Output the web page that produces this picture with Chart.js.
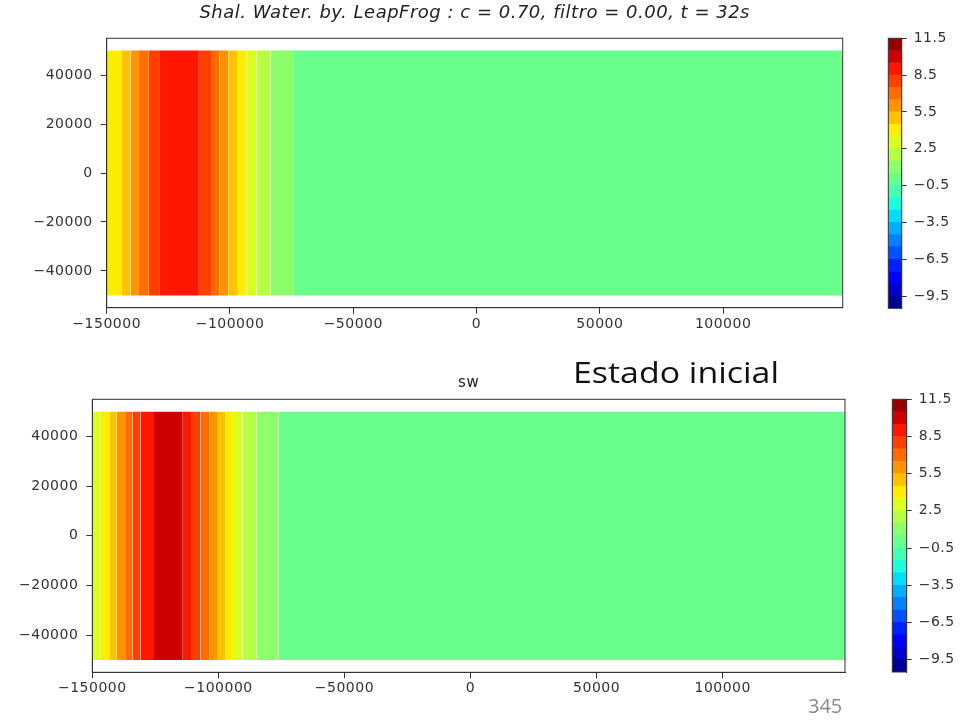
<!DOCTYPE html>
<html>
<head>
<meta charset="utf-8">
<script src="https://cdn.jsdelivr.net/npm/chart.js@4.4.1/dist/chart.umd.min.js"></script>
<style>
  html, body { margin: 0; padding: 0; background: #fff; }
  body { width: 972px; height: 723px; position: relative; overflow: hidden; }
  canvas { position: absolute; }
  #note { position: absolute; left: 573px; top: 351px; font: 30px 'Open Sans'; color: #111;
          white-space: nowrap; transform: scaleX(1.13); transform-origin: 0 0; }
  #page { position: absolute; left: 808px; top: 692px; font: 20px 'Open Sans'; color: #8a8a8a; }
</style>
</head>
<body>
<canvas id="top-plot" width="860" height="340" style="left:0;top:0"></canvas>
<canvas id="top-bar" width="100" height="290" style="left:870px;top:30px"></canvas>
<canvas id="bottom-plot" width="860" height="345" style="left:0;top:360px"></canvas>
<canvas id="bottom-bar" width="100" height="290" style="left:870px;top:390px"></canvas>
<div id="note">Estado inicial</div>
<div id="page">345</div>

<script>
// contour levels and colorbar ticks
const levels   = [-10.5, -9.5, -8.5, -7.5, -6.5, -5.5, -4.5, -3.5, -2.5, -1.5, -0.5, 0.5,
                  1.5, 2.5, 3.5, 4.5, 5.5, 6.5, 7.5, 8.5, 9.5, 10.5, 11.5];
const cbTicks  = [11.5, 8.5, 5.5, 2.5, -0.5, -3.5, -6.5, -9.5];

// axis ticks
const xTicks = [-150000, -100000, -50000, 0, 50000, 100000];
const yTicks = [-40000, -20000, 0, 20000, 40000];
const xRange = [-150000, 148500];
const yRange = [-55000, 55000];
const yExtent = [-50000, 50000];   // domain covered by the field

// t = 32s : band edges along x and the level (layer value) in each band
const topEdges = [-150000, -143900, -140300, -136900, -132900, -128400, -112600, -107700,
                  -104300, -100700, -96900, -93200, -89200, -83500, -74300, 148500];
const topBands = [4, 5, 6, 7, 8, 9, 8, 7, 6, 5, 4, 3, 2, 1, 0];

// estado inicial
const botEdges = [-150000, -146600, -143000, -140300, -137000, -134100, -130900, -125900,
                  -114100, -110500, -107100, -103600, -100500, -97200, -94200, -90400,
                  -84800, -76100, 148500];
const botBands = [3, 4, 5, 6, 7, 8, 9, 10, 9, 8, 7, 6, 5, 4, 3, 2, 1, 0];

// matplotlib 'jet' (256 entries)
const JET = {
  r: [[0, 0], [0.35, 0], [0.66, 1], [0.89, 1], [1, 0.5]],
  g: [[0, 0], [0.125, 0], [0.375, 1], [0.64, 1], [0.91, 0], [1, 0]],
  b: [[0, 0.5], [0.11, 1], [0.34, 1], [0.65, 0], [1, 0]],
};
function seg(pts, x) {
  for (let i = 1; i < pts.length; i++) {
    if (x <= pts[i][0]) {
      const [x0, y0] = pts[i - 1], [x1, y1] = pts[i];
      return y0 + (y1 - y0) * (x - x0) / (x1 - x0);
    }
  }
  return pts[pts.length - 1][1];
}
function jet(v) {
  const lo = levels[0], hi = levels[levels.length - 1];
  const t = (v - lo) / (hi - lo);
  const x = Math.min(255, Math.max(0, Math.floor(t * 256))) / 255;
  const c = k => Math.round(seg(JET[k], x) * 255);
  return `rgb(${c('r')},${c('g')},${c('b')})`;
}

const INK = '#333';
const tickFont = { family: 'DejaVu Sans', size: 14 };
const minus = s => s.replace('-', '\u2212');

// box around the axes + slightly wider lettering like the reference
const frame = {
  id: 'frame',
  beforeDraw(chart) { chart.ctx.letterSpacing = '0.5px'; },
  afterDraw(chart) {
    const { ctx, chartArea: a } = chart;
    ctx.save();
    ctx.strokeStyle = INK;
    ctx.lineWidth = 1;
    ctx.strokeRect(a.left, a.top, a.right - a.left, a.bottom - a.top);
    ctx.restore();
  }
};

// fixed axis width, no extra room for end labels
const fitY = w => s => { s.width = w; s.paddingTop = 0; s.paddingBottom = 0; };

function bandSets(edges, bands) {
  return bands.map((v, i) => ({
    data: [{ x: edges[i], y: yExtent[1] }, { x: edges[i + 1], y: yExtent[1] }],
    fill: { value: yExtent[0] },
    backgroundColor: jet(v),
    borderWidth: 0,
    pointRadius: 0,
  }));
}

function fieldChart(id, edges, bands, o) {
  return new Chart(document.getElementById(id), {
    type: 'line',
    data: { datasets: bandSets(edges, bands) },
    plugins: [frame],
    options: {
      responsive: false,
      animation: false,
      layout: { autoPadding: false, padding: { left: 0, right: o.padRight, top: 0, bottom: 0 } },
      plugins: {
        legend: { display: false },
        tooltip: { enabled: false },
        title: {
          display: true, fullSize: false, text: o.title, color: '#222',
          font: o.titleFont, padding: o.titlePad,
        },
      },
      scales: {
        x: {
          type: 'linear', min: xRange[0], max: xRange[1],
          afterBuildTicks: s => { s.ticks = xTicks.map(v => ({ value: v })); },
          afterFit: s => { s.height = o.xHeight; },
          grid: { drawOnChartArea: false, tickLength: 6, color: INK },
          border: { color: INK },
          ticks: { color: INK, font: tickFont, padding: 2, maxRotation: 0, autoSkip: false,
                   callback: v => minus(String(v)) },
        },
        y: {
          type: 'linear', min: yRange[0], max: yRange[1],
          afterBuildTicks: s => { s.ticks = yTicks.map(v => ({ value: v })); },
          afterFit: fitY(o.yWidth),
          grid: { drawOnChartArea: false, tickLength: 6, color: INK },
          border: { color: INK },
          ticks: { color: INK, font: tickFont, padding: 8, callback: v => minus(String(v)) },
        },
      },
    },
  });
}

function colorbar(id, o) {
  const sets = levels.slice(0, -1).map((lo, i) => ({
    data: [[lo, levels[i + 1]]],
    backgroundColor: jet((lo + levels[i + 1]) / 2),
    borderWidth: 0,
    grouped: false,
    barPercentage: 1,
    categoryPercentage: 1,
  }));
  return new Chart(document.getElementById(id), {
    type: 'bar',
    data: { labels: [''], datasets: sets },
    plugins: [frame],
    options: {
      responsive: false,
      animation: false,
      layout: { autoPadding: false, padding: o.pad },
      plugins: { legend: { display: false }, tooltip: { enabled: false } },
      scales: {
        x: { display: false },
        y: {
          position: 'right', min: levels[0], max: levels[levels.length - 1],
          afterBuildTicks: s => { s.ticks = cbTicks.map(v => ({ value: v })); },
          afterFit: fitY(o.axisWidth),
          grid: { drawOnChartArea: false, tickLength: 5, color: INK },
          border: { color: INK },
          ticks: { color: INK, font: tickFont, padding: 7, callback: v => minus(v.toFixed(1)) },
        },
      },
    },
  });
}

fieldChart('top-plot', topEdges, topBands, {
  title: 'Shal. Water. by. LeapFrog : c = 0.70, filtro = 0.00, t = 32s',
  titleFont: { family: 'DejaVu Sans', size: 18, style: 'italic', weight: 'normal' },
  titlePad: { top: 2.2, bottom: 14.5 },
  padRight: 17.3, yWidth: 106.7, xHeight: 32.3,
});
colorbar('top-bar', { pad: { left: 18.3, right: 0, top: 8.3, bottom: 11.7 }, axisWidth: 68.3 });

fieldChart('bottom-plot', botEdges, botBands, {
  title: 'sw',
  titleFont: { family: 'DejaVu Sans', size: 15, weight: 'normal' },
  titlePad: { top: 14, bottom: 7.3 },
  padRight: 15, yWidth: 92.3, xHeight: 32.7,
});
colorbar('bottom-bar', { pad: { left: 22.3, right: 0, top: 9.3, bottom: 8 }, axisWidth: 63.3 });
</script>
</body>
</html>
